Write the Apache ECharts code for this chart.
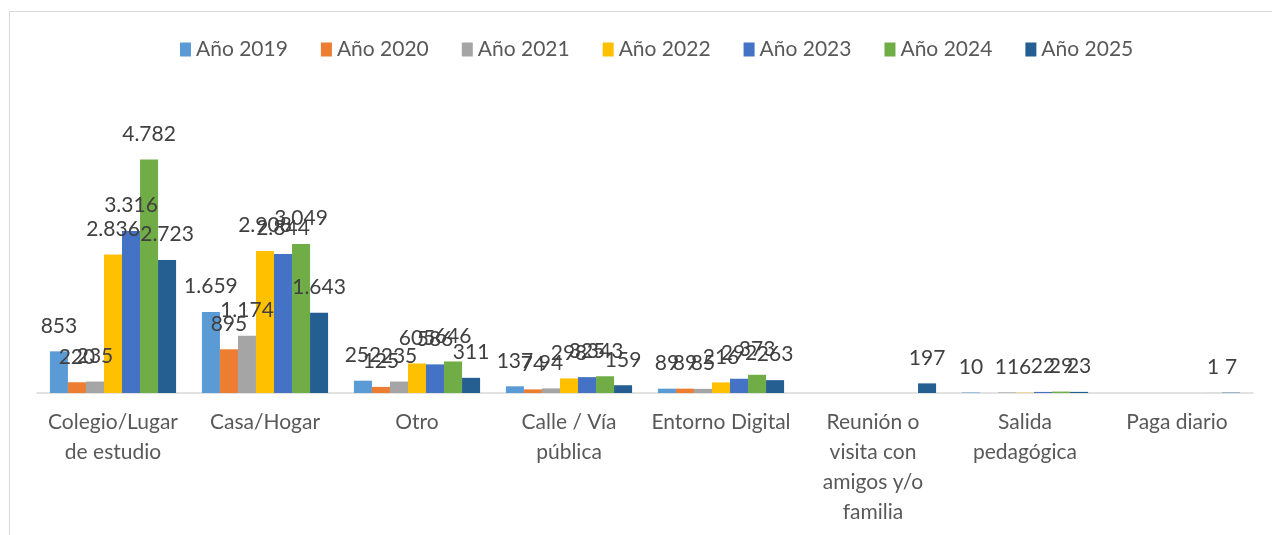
<!DOCTYPE html>
<html>
<head>
<meta charset="utf-8">
<script src="https://cdn.jsdelivr.net/npm/echarts@6/dist/echarts.min.js"></script>
<style>
  html, body { margin: 0; padding: 0; background: #fff; }
  #main { width: 1272px; height: 535px; }
</style>
</head>
<body>
<div id="main"></div>
<script>
// categorias del eje x
var categories = ['Colegio/Lugar\nde estudio', 'Casa/Hogar', 'Otro', 'Calle / Vía\npública',
  'Entorno Digital', 'Reunión o\nvisita con\namigos y/o\nfamilia', 'Salida\npedagógica', 'Paga diario']
var years = ['Año 2019', 'Año 2020', 'Año 2021', 'Año 2022', 'Año 2023', 'Año 2024', 'Año 2025']
// valores por año (null = sin dato)
var y2019 = [853, 1659, 252, 137, 89, null, 10, null]
var y2020 = [220, 895, 125, 74, 89, null, null, null]
var y2021 = [235, 1174, 235, 94, 85, null, 11, null]
var y2022 = [2836, 2908, 605, 298, 216, null, 6, null]
var y2023 = [3316, 2844, 586, 325, 292, null, 22, null]
var y2024 = [4782, 3049, 646, 343, 373, null, 29, 1]
var y2025 = [2723, 1643, 311, 159, 263, 197, 23, 7]
var colors = ['#5B9BD5', '#ED7D31', '#A5A5A5', '#FFC000', '#4472C4', '#70AD47', '#255E91']

var allData = [y2019, y2020, y2021, y2022, y2023, y2024, y2025]
var fontName = 'Lato'

function fmt (v) {
  return String(v).replace(/\B(?=(\d{3})+(?!\d))/g, '.')
}

var myChart = echarts.init(document.getElementById('main'))
myChart.setOption({
  animation: false,
  color: colors,
  textStyle: { fontFamily: fontName },
  graphic: [
    {
      type: 'rect',
      left: 7,
      top: 9,
      shape: { width: 1300, height: 600 },
      style: { fill: 'none', stroke: '#d9d9d9', lineWidth: 1 },
      silent: true
    }
  ],
  legend: {
    top: 34,
    left: 175,
    itemWidth: 11,
    itemHeight: 14,
    itemGap: 33,
    icon: 'rect',
    textStyle: { fontSize: 21, color: '#595959', fontFamily: fontName },
    data: years
  },
  grid: {
    left: 37,
    right: 19,
    top: 100,
    bottom: 142
  },
  xAxis: {
    type: 'category',
    data: categories,
    axisTick: { show: false },
    axisLine: { lineStyle: { color: '#d9d9d9', width: 1.5 } },
    axisLabel: {
      interval: 0,
      margin: 14,
      fontSize: 21,
      lineHeight: 30,
      color: '#595959',
      fontFamily: fontName
    }
  },
  yAxis: {
    type: 'value',
    min: 0,
    max: 6000,
    show: false
  },
  series: years.map(function (name, i) {
    return {
      name: name,
      type: 'bar',
      data: allData[i],
      barGap: '0%',
      barCategoryGap: '17%',
      label: {
        show: true,
        position: 'top',
        distance: 15,
        fontSize: 21,
        color: '#404040',
        fontFamily: fontName,
        formatter: function (p) { return fmt(p.value) }
      }
    }
  })
})
</script>
</body>
</html>
